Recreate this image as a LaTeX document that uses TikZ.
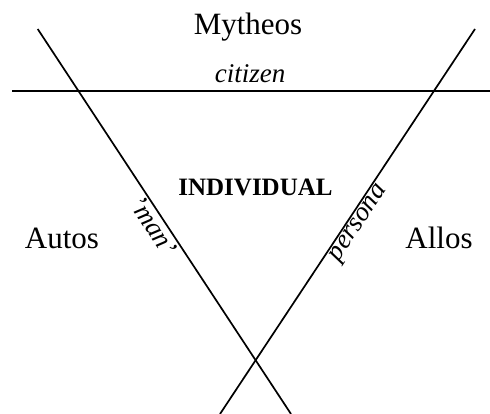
\documentclass[tikz,border=0pt]{standalone}
\usepackage{fontspec}
\setmainfont{Liberation Serif}
\usetikzlibrary{positioning}

\begin{document}
\begin{tikzpicture}[x=1pt,y=-1pt,
  axis/.style={line width=1.7pt},
  realm/.style={font=\fontsize{31}{36}\selectfont,anchor=base,inner sep=0pt},
  role/.style={font=\fontsize{27}{32}\selectfont\itshape,inner sep=1.5pt},
  core/.style={font=\fontsize{25}{30}\selectfont\bfseries,anchor=base,inner sep=0pt}]
\useasboundingbox (0,0) rectangle (490,414);
% end points of the three lines
\coordinate (lt) at (37.7,29);
\coordinate (lb) at (291,414);
\coordinate (rb) at (220,414);
\coordinate (rt) at (475,29);
\coordinate (hl) at (12,91);
\coordinate (hr) at (490,91);
\node[realm] (myth) at (248,35) {Mytheos};
\node[realm] (aut) at (62,249) {Autos};
\node[realm] (all) at (439,249) {Allos};
\node[core] (ind) at (255.5,196) {INDIVIDUAL};
\node[role,anchor=base,inner sep=0pt] (cit) at (250,83) {citizen};
\draw[axis] (hl) -- (hr);
\draw[axis] (lt) -- node[role,below,sloped,pos=0.495] (man) {'man'} (lb);
\draw[axis] (rb) -- node[role,below,sloped,pos=0.51] (pers) {persona} (rt);
\end{tikzpicture}
\end{document}
